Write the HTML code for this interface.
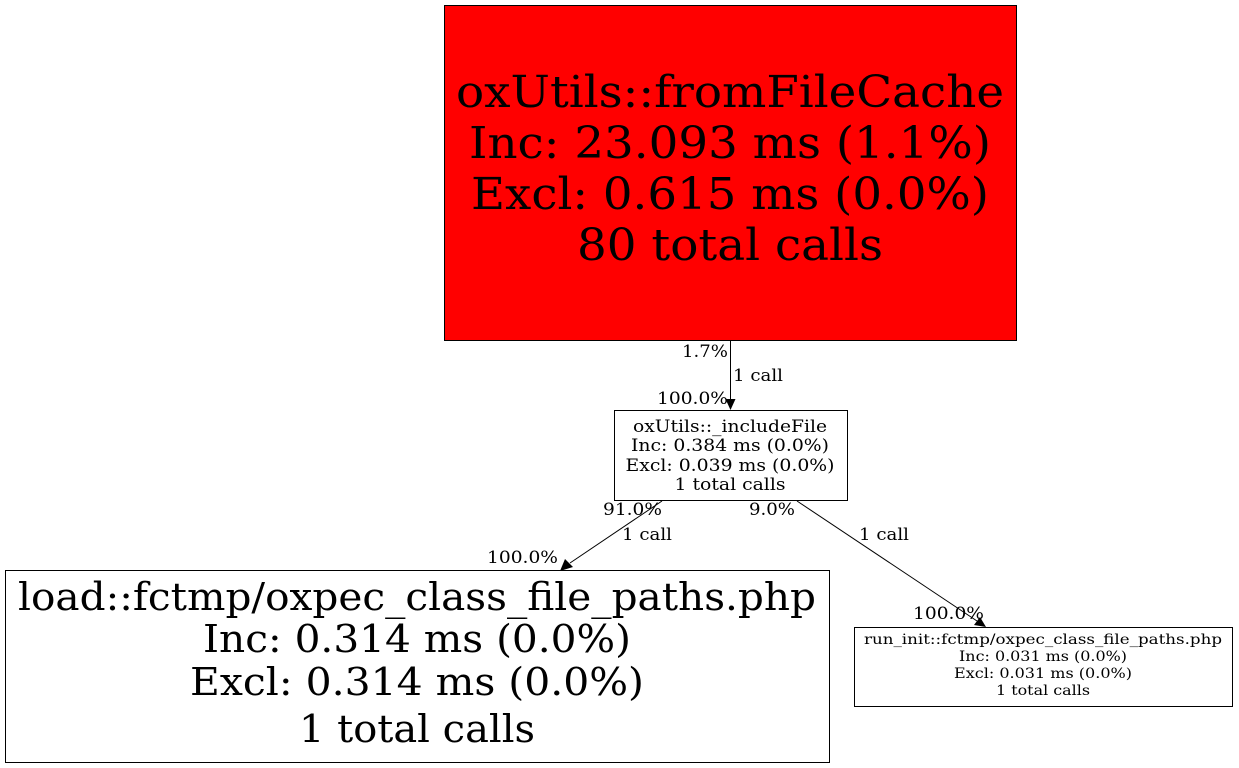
<!DOCTYPE html>
<html><head><style>html,body{margin:0;padding:0;background:#fff}svg{display:block}</style></head><body>
<svg width="1239" height="768" viewBox="0 0 1239 768" xmlns="http://www.w3.org/2000/svg" font-family="'DejaVu Serif','Liberation Serif',serif">
<rect x="0" y="0" width="1239" height="768" fill="#fff"/>
<rect x="444.5" y="5.5" width="572" height="335" fill="#ff0000" stroke="#000"/>
<g font-size="44" text-anchor="middle" fill="#000">
<text x="730" y="107" textLength="548" lengthAdjust="spacingAndGlyphs">oxUtils::fromFileCache</text>
<text x="730" y="158" textLength="522" lengthAdjust="spacingAndGlyphs">Inc: 23.093 ms (1.1%)</text>
<text x="730" y="209" textLength="518" lengthAdjust="spacingAndGlyphs">Excl: 0.615 ms (0.0%)</text>
<text x="730" y="260" textLength="306" lengthAdjust="spacingAndGlyphs">80 total calls</text>
</g>
<line x1="730.5" y1="341" x2="730.5" y2="400" stroke="#000"/>
<polygon points="725.5,399 735.5,399 730.5,410" fill="#000"/>
<g font-size="17" fill="#000">
<text x="682" y="357" textLength="46" lengthAdjust="spacingAndGlyphs">1.7%</text>
<text x="733" y="381" textLength="50" lengthAdjust="spacingAndGlyphs">1 call</text>
<text x="657" y="404" textLength="71" lengthAdjust="spacingAndGlyphs">100.0%</text>
</g>
<rect x="614.5" y="410.5" width="233" height="90" fill="#fff" stroke="#000"/>
<g font-size="17" text-anchor="middle">
<text x="730" y="432" textLength="194" lengthAdjust="spacingAndGlyphs">oxUtils::_includeFile</text>
<text x="730" y="451" textLength="198" lengthAdjust="spacingAndGlyphs">Inc: 0.384 ms (0.0%)</text>
<text x="730" y="471" textLength="209" lengthAdjust="spacingAndGlyphs">Excl: 0.039 ms (0.0%)</text>
<text x="730" y="490" textLength="111" lengthAdjust="spacingAndGlyphs">1 total calls</text>
</g>
<line x1="662" y1="501" x2="570" y2="563" stroke="#000"/>
<polygon points="565,559 573,567 560,571" fill="#000"/>
<line x1="797" y1="501" x2="977" y2="621" stroke="#000"/>
<polygon points="974,625 980,617 986,627" fill="#000"/>
<g font-size="17">
<text x="603" y="515" textLength="59" lengthAdjust="spacingAndGlyphs">91.0%</text>
<text x="622" y="540" textLength="50" lengthAdjust="spacingAndGlyphs">1 call</text>
<text x="487" y="563" textLength="71" lengthAdjust="spacingAndGlyphs">100.0%</text>
<text x="749" y="515" textLength="46" lengthAdjust="spacingAndGlyphs">9.0%</text>
<text x="859" y="540" textLength="50" lengthAdjust="spacingAndGlyphs">1 call</text>
<text x="913" y="619" textLength="71" lengthAdjust="spacingAndGlyphs">100.0%</text>
</g>
<rect x="5.5" y="570.5" width="824" height="192" fill="#fff" stroke="#000"/>
<g font-size="38" text-anchor="middle">
<text x="417" y="610" textLength="798" lengthAdjust="spacingAndGlyphs">load::fctmp/oxpec_class_file_paths.php</text>
<text x="417" y="652" textLength="428" lengthAdjust="spacingAndGlyphs">Inc: 0.314 ms (0.0%)</text>
<text x="417" y="695" textLength="454" lengthAdjust="spacingAndGlyphs">Excl: 0.314 ms (0.0%)</text>
<text x="417" y="742" textLength="236" lengthAdjust="spacingAndGlyphs">1 total calls</text>
</g>
<rect x="854.5" y="627.5" width="378" height="79" fill="#fff" stroke="#000"/>
<g font-size="14" text-anchor="middle">
<text x="1043" y="644" textLength="358" lengthAdjust="spacingAndGlyphs">run_init::fctmp/oxpec_class_file_paths.php</text>
<text x="1043" y="661" textLength="168" lengthAdjust="spacingAndGlyphs">Inc: 0.031 ms (0.0%)</text>
<text x="1043" y="678" textLength="178" lengthAdjust="spacingAndGlyphs">Excl: 0.031 ms (0.0%)</text>
<text x="1043" y="695" textLength="94" lengthAdjust="spacingAndGlyphs">1 total calls</text>
</g>
</svg>
</body></html>
